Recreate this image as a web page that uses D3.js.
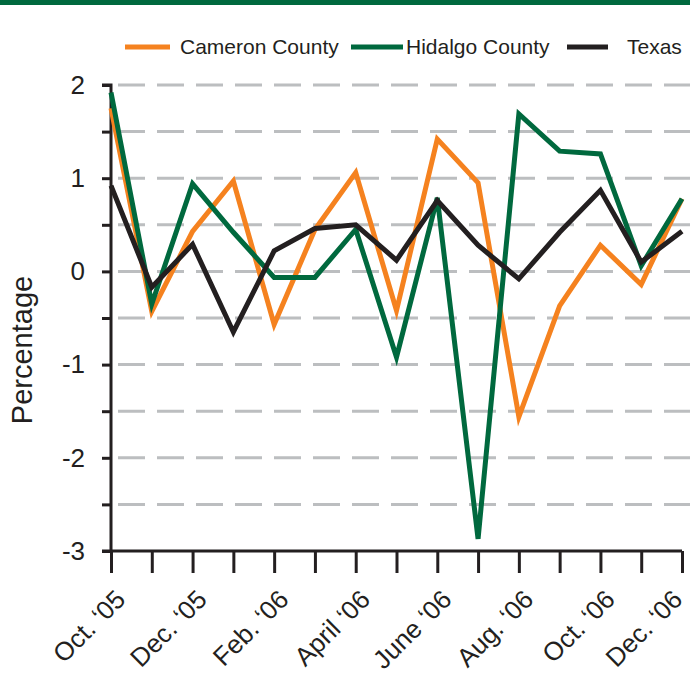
<!DOCTYPE html>
<html lang="en">
<head>
<meta charset="utf-8">
<title>Percentage change</title>
<script src="https://d3js.org/d3.v7.min.js"></script>
<style>
body { margin: 0; background: #fff; }
text { font-family: "Liberation Sans", Arial, sans-serif; fill: #231f20; }
</style>
</head>
<body>
<script>
var months = ["Oct05","Nov05","Dec05","Jan06","Feb06","Mar06","Apr06","May06","Jun06","Jul06","Aug06","Sep06","Oct06","Nov06","Dec06"];
var tickLabels = {"Oct05":"Oct. \u201805","Dec05":"Dec. \u201805","Feb06":"Feb. \u201806","Apr06":"April \u201806",
  "Jun06":"June \u201806","Aug06":"Aug. \u201806","Oct06":"Oct. \u201806","Dec06":"Dec. \u201806"};
var cameron = [1.75,-0.43,0.43,0.97,-0.57,0.45,1.06,-0.42,1.42,0.95,-1.56,-0.37,0.28,-0.14,0.78];
var hidalgo = [1.92,-0.35,0.94,0.42,-0.065,-0.065,0.45,-0.92,0.79,-2.87,1.69,1.29,1.26,0.06,0.78];
var texas   = [0.92,-0.17,0.29,-0.65,0.22,0.46,0.50,0.12,0.76,0.28,-0.08,0.42,0.87,0.10,0.43];
var yTicks = [2,1,0,-1,-2,-3];
var gridVals = [2,1.5,1,0.5,0,-0.5,-1,-1.5,-2,-2.5];

var series = [
  {name:"Cameron County", values:cameron, color:"#f5821f"},
  {name:"Hidalgo County", values:hidalgo, color:"#00693e"},
  {name:"Texas", values:texas, color:"#231f20"}
];

var W = 690, H = 685;
var svg = d3.select("body").append("svg").attr("width", W).attr("height", H);

// green band on top
svg.append("rect").attr("x",0).attr("y",0).attr("width",W).attr("height",5).attr("fill","#00693e");

var x = d3.scalePoint().domain(months).range([111, 682]);
var y = d3.scaleLinear().domain([-3, 2]).range([551, 85]);

// grid
svg.append("g").selectAll("line").data(gridVals).enter().append("line")
  .attr("x1", 118).attr("x2", W)
  .attr("y1", function(d){ return y(d); }).attr("y2", function(d){ return y(d); })
  .attr("stroke", "#bcbec0").attr("stroke-width", 3)
  .attr("stroke-dasharray", "27,12");

// y axis
var yAxis = d3.axisLeft(y).tickValues(d3.range(-3, 2.01, 0.5)).tickSize(9).tickPadding(17)
  .tickFormat(function(d){ return yTicks.indexOf(d) >= 0 ? d : ""; });
var gy = svg.append("g").attr("transform","translate(111,0)").call(yAxis);
gy.select(".domain").attr("stroke","#231f20").attr("stroke-width",3).attr("d","M-9,"+y(2)+"H0V"+y(-3));
gy.selectAll(".tick line").attr("stroke","#231f20").attr("stroke-width",3);
gy.selectAll(".tick text").attr("font-size",26).style("font-family","Liberation Sans, Arial, sans-serif").attr("fill","#231f20");

// x axis
var xAxis = d3.axisBottom(x).tickSize(22).tickFormat("");
var gx = svg.append("g").attr("transform","translate(0,551)").call(xAxis);
gx.select(".domain").attr("stroke","#231f20").attr("stroke-width",3).attr("d","M102,0H"+x("Dec06"));
gx.selectAll(".tick line").attr("stroke","#231f20").attr("stroke-width",3);

svg.append("g").selectAll("text").data(months.filter(function(m){ return tickLabels[m]; })).enter()
  .append("text")
  .attr("transform", function(d){ return "translate(" + Math.min(x(d) + 16, 684) + ",601) rotate(-45)"; })
  .attr("text-anchor","end")
  .attr("font-size", 26)
  .text(function(d){ return tickLabels[d]; });

// y label
svg.append("text").attr("transform","translate(32,350) rotate(-90)")
  .attr("text-anchor","middle").attr("font-size",29).text("Percentage");

// lines
var line = d3.line().x(function(d,i){ return x(months[i]); }).y(function(d){ return y(d); });
svg.append("g").selectAll("path").data(series).enter().append("path")
  .attr("d", function(s){ return line(s.values); })
  .attr("fill","none").attr("stroke", function(s){ return s.color; })
  .attr("stroke-width", 5).attr("stroke-linejoin","miter").attr("stroke-miterlimit", 4);

// legend
var swatch = [[125,170],[351,403],[567,608]];
var textX = [180, 406, 627];
var lg = svg.append("g").selectAll("g").data(series).enter().append("g");
lg.append("line")
  .attr("x1", function(d,i){ return swatch[i][0]; }).attr("x2", function(d,i){ return swatch[i][1]; })
  .attr("y1", 47).attr("y2", 47)
  .attr("stroke", function(d){ return d.color; }).attr("stroke-width",5);
lg.append("text").attr("x", function(d,i){ return textX[i]; }).attr("y", 54)
  .attr("font-size", 21).text(function(d){ return d.name; });
</script>
</body>
</html>
